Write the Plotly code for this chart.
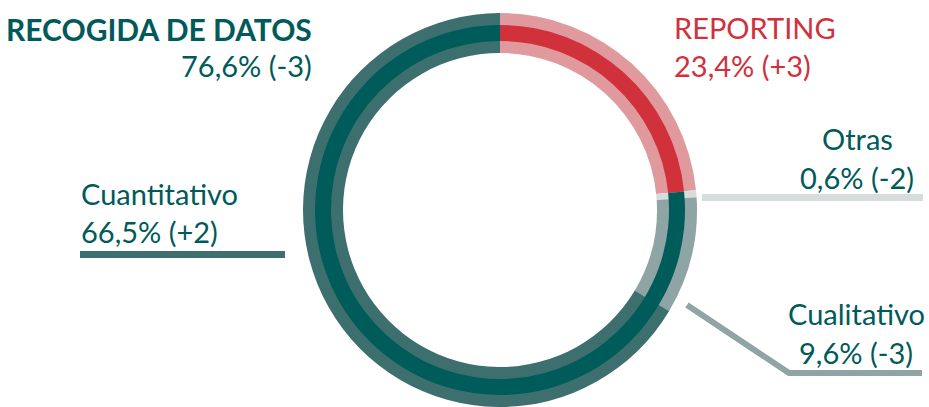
import plotly.graph_objects as go

# ---- data ----
main_labels = ["REPORTING", "RECOGIDA DE DATOS"]
main_values = [23.4, 76.6]
main_changes = ["+3", "-3"]

sub_labels = ["Reporting", "Otras", "Cualitativo", "Cuantitativo"]
sub_values = [23.4, 0.6, 9.6, 66.5]
sub_changes = ["+3", "-2", "-3", "+2"]

# ---- style ----
W, H = 929, 407
TEAL = "#005a5a"
RED = "#d0313b"
main_colors = [RED, "#005b5b"]
sub_colors = ["#e09a9d", "#d6dddc", "#8fa4a4", "#3e6f6f"]
FONT = "Lato"

def fx(x):
    return x / W

def fy(y):
    return 1 - y / H

cx, cy = 500, 210
R0, R1, R2, R3 = 197, 185, 169, 157

def dom(r):
    return dict(x=[fx(cx - r), fx(cx + r)], y=[fy(cy + r), fy(cy - r)])

def fmt(v):
    return f"{v:.1f}".replace(".", ",") + "%"

fig = go.Figure()
fig.add_trace(go.Pie(
    labels=sub_labels, values=sub_values, sort=False, direction="clockwise",
    rotation=0, hole=R3 / R0, domain=dom(R0),
    marker=dict(colors=sub_colors, line=dict(width=0)),
    textinfo="none", hoverinfo="skip", showlegend=False,
))
fig.add_trace(go.Pie(
    labels=main_labels, values=main_values, sort=False, direction="clockwise",
    rotation=0, hole=R2 / R1, domain=dom(R1),
    marker=dict(colors=main_colors, line=dict(width=0)),
    textinfo="none", hoverinfo="skip", showlegend=False,
))

annotations = []

def ann(text, x, y, xanchor, color, bold=False, size=29):
    annotations.append(dict(
        text=f"<b>{text}</b>" if bold else text,
        x=fx(x), y=fy(y), xref="paper", yref="paper",
        xanchor=xanchor, yanchor="middle", showarrow=False, borderpad=0,
        font=dict(family=FONT, size=size, color=color),
    ))

# main category labels
ann(main_labels[1], 313, 28.5, "right", TEAL, bold=True, size=30)
ann(f"{fmt(main_values[1])} ({main_changes[1]})", 313, 65.5, "right", TEAL)
ann(main_labels[0], 673, 27.5, "left", RED)
ann(f"{fmt(main_values[0])} ({main_changes[0]})", 673, 65.5, "left", RED)

# sub category labels
ann(sub_labels[3], 80, 193, "left", TEAL)
ann(f"{fmt(sub_values[3])} ({sub_changes[3]})", 80, 231.5, "left", TEAL)
ann(sub_labels[1], 857, 138, "center", TEAL)
ann(f"{fmt(sub_values[1])} ({sub_changes[1]})", 857, 177, "center", TEAL)
ann(sub_labels[2], 856, 313, "center", TEAL)
ann(f"{fmt(sub_values[2])} ({sub_changes[2]})", 856, 352.5, "center", TEAL)

shapes = [
    dict(type="line", xref="paper", yref="paper",
         x0=fx(80), x1=fx(285), y0=fy(254.5), y1=fy(254.5),
         line=dict(color=sub_colors[3], width=7)),
    dict(type="line", xref="paper", yref="paper",
         x0=fx(702), x1=fx(923), y0=fy(197.5), y1=fy(197.5),
         line=dict(color=sub_colors[1], width=7)),
    dict(type="path", xref="paper", yref="paper",
         path=f"M {fx(687)},{fy(305)} L {fx(789)},{fy(373)} L {fx(922)},{fy(373)}",
         line=dict(color=sub_colors[2], width=6)),
]

fig.update_layout(
    width=W, height=H, margin=dict(l=0, r=0, t=0, b=0),
    paper_bgcolor="white", plot_bgcolor="white",
    annotations=annotations, shapes=shapes, showlegend=False,
)

fig.write_html(
    "out.html",
    config={"displayModeBar": False},
    post_script="document.body.style.margin='0';document.body.style.overflow='hidden';",
)
